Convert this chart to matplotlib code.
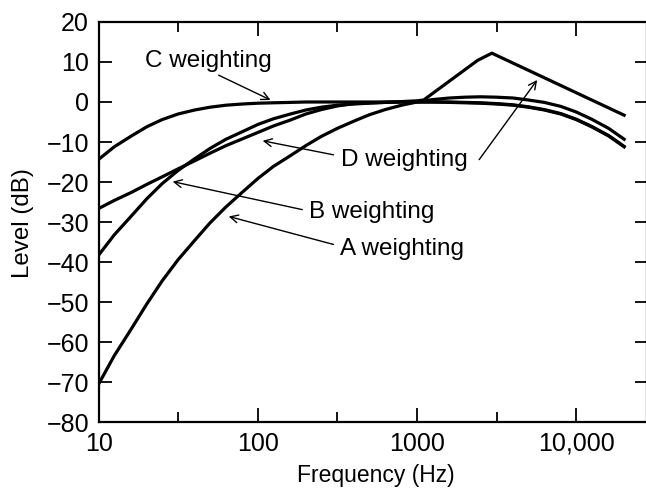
import matplotlib.pyplot as plt
from matplotlib.ticker import FixedLocator, NullFormatter

plt.rcParams['font.family'] = ['Liberation Sans', 'DejaVu Sans']

# frequencies (Hz) shared by A, B and C curves
freq = [10, 12.5, 16, 20, 25, 31.5, 40, 50, 63, 80, 100, 125, 160, 200, 250,
        315, 400, 500, 630, 800, 1000, 1250, 1600, 2000, 2500, 3150, 4000,
        5000, 6300, 8000, 10000, 12500, 16000, 20000]

a_weight = [-70.4, -63.4, -56.7, -50.5, -44.7, -39.4, -34.6, -30.2, -26.2, -22.5,
            -19.1, -16.1, -13.4, -10.9, -8.6, -6.6, -4.8, -3.2, -1.9, -0.8,
            0.0, 0.6, 1.0, 1.2, 1.3, 1.2, 1.0, 0.5, -0.1, -1.1,
            -2.5, -4.3, -6.6, -9.3]
b_weight = [-38.2, -33.2, -28.5, -24.2, -20.4, -17.1, -14.2, -11.6, -9.3, -7.4,
            -5.6, -4.2, -3.0, -2.0, -1.3, -0.8, -0.5, -0.3, -0.1, 0.0,
            0.0, 0.0, 0.0, -0.1, -0.2, -0.4, -0.7, -1.2, -1.9, -2.9,
            -4.3, -6.1, -8.4, -11.1]
c_weight = [-14.3, -11.2, -8.5, -6.2, -4.4, -3.0, -2.0, -1.3, -0.8, -0.5,
            -0.3, -0.2, -0.1, 0.0, 0.0, 0.0, 0.0, 0.0, 0.0, 0.0,
            0.0, 0.0, -0.1, -0.2, -0.3, -0.5, -0.8, -1.3, -2.0, -3.0,
            -4.4, -6.2, -8.5, -11.2]

# D curve is drawn with straight segments around its peak
d_freq = [10, 12.5, 16, 20, 25, 31.5, 40, 50, 63, 80, 100, 125, 160, 200, 250,
          315, 400, 500, 630, 800, 1000, 1100, 2400, 2950, 20000]
d_weight = [-26.6, -24.6, -22.6, -20.6, -18.7, -16.7, -14.7, -12.8, -10.9, -9.2,
            -7.6, -6.0, -4.5, -3.0, -1.9, -1.0, -0.4, -0.2, -0.1, 0.1,
            0.3, 0.5, 10.4, 12.2, -3.3]

x_ticks = [10, 100, 1000, 10000]
x_labels = ['10', '100', '1000', '10,000']
x_minor = [31.6, 316, 3162]
y_ticks = list(range(-80, 21, 10))

fig = plt.figure(figsize=(6.46, 4.88), dpi=100)
ax = fig.add_axes([0.153, 0.135, 0.848, 0.82])

for vals, f in [(a_weight, freq), (b_weight, freq), (c_weight, freq), (d_weight, d_freq)]:
    ax.plot(f, vals, color='black', lw=2.3, solid_joinstyle='round')

ax.set_xscale('log')
ax.set_xlim(10, 27700)
ax.set_ylim(-80, 20)
ax.xaxis.set_major_locator(FixedLocator(x_ticks))
ax.set_xticklabels(x_labels)
ax.xaxis.set_minor_locator(FixedLocator(x_minor))
ax.xaxis.set_minor_formatter(NullFormatter())
ax.set_yticks(y_ticks)

ax.tick_params(which='both', direction='in', top=True, right=True,
               labelsize=18, width=1.3)
ax.tick_params(axis='x', which='major', length=10, pad=7)
ax.tick_params(axis='x', which='minor', length=7)
ax.tick_params(axis='y', length=9, pad=7)
for s in ax.spines.values():
    s.set_linewidth(1.6)

fig.text(376 / 646, 1 - 482 / 488, 'Frequency (Hz)', fontsize=16.5,
         ha='center', va='baseline')
fig.text(23 / 646, 1 - 223 / 488, 'Level (dB)', fontsize=17.4,
         rotation=90, ha='center', va='center')

arrow = dict(arrowstyle='->', color='black', lw=1.0, shrinkA=0, shrinkB=0,
             mutation_scale=14)
ax.text(49, 8.75, 'C weighting', fontsize=17.5, ha='center', va='baseline')
ax.annotate('', xy=(120, 0.5), xytext=(56.6, 6.7), arrowprops=arrow)
ax.text(834, -16.0, 'D weighting', fontsize=17.5, ha='center', va='baseline')
ax.annotate('', xy=(107, -9.7), xytext=(298, -13.2), arrowprops=arrow)
ax.annotate('', xy=(5680, 5.5), xytext=(2455, -14.4), arrowprops=arrow)
ax.text(518, -29.0, 'B weighting', fontsize=17.5, ha='center', va='baseline')
ax.annotate('', xy=(29.1, -19.9), xytext=(190, -26.9), arrowprops=arrow)
ax.text(809, -38.25, 'A weighting', fontsize=17.5, ha='center', va='baseline')
ax.annotate('', xy=(65.5, -28.6), xytext=(298, -35.6), arrowprops=arrow)

fig.savefig('out.png', dpi=100)
